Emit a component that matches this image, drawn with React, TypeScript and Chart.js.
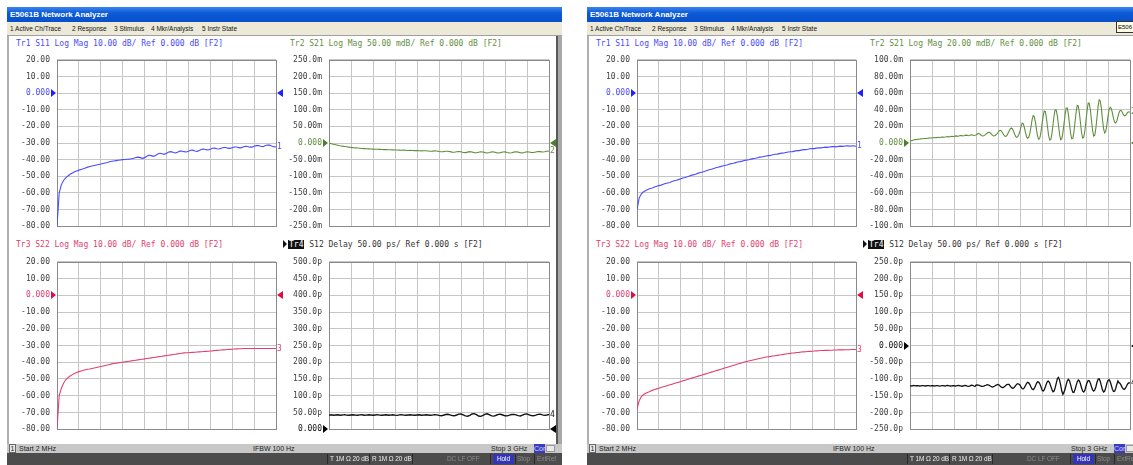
import React, { useEffect, useRef } from "react";
import { Chart, registerables } from "chart.js";
Chart.register(...registerables);

// sweep position, percent of the 2 MHz – 3 GHz span
const SWEEP = Array.from({ length: 101 }, (_, i) => i);
const SWEEP_FINE = Array.from({ length: 201 }, (_, i) => i / 2);

const LOGMAG_TICKS = ["20.00", "10.00", "0.000", "-10.00", "-20.00", "-30.00", "-40.00", "-50.00", "-60.00", "-70.00", "-80.00"];
const L_S21_TICKS = ["250.0m", "200.0m", "150.0m", "100.0m", "50.00m", "0.000", "-50.00m", "-100.0m", "-150.0m", "-200.0m", "-250.0m"];
const L_DELAY_TICKS = ["500.0p", "450.0p", "400.0p", "350.0p", "300.0p", "250.0p", "200.0p", "150.0p", "100.0p", "50.00p", "0.000"];
const R_S21_TICKS = ["100.0m", "80.00m", "60.00m", "40.00m", "20.00m", "0.000", "-20.00m", "-40.00m", "-60.00m", "-80.00m", "-100.0m"];
const R_DELAY_TICKS = ["250.0p", "200.0p", "150.0p", "100.0p", "50.00p", "0.000", "-50.00p", "-100.0p", "-150.0p", "-200.0p", "-250.0p"];

const MENU_ITEMS = ["1 Active Ch/Trace", "2 Response", "3 Stimulus", "4 Mkr/Analysis", "5 Instr State"];

// ---- left analyzer (dB, mdB, ps), 1 % steps
const L_S11 = [
  -80, -60, -55, -52.5, -51, -49.8, -48.8, -48, -47.3, -46.8,
  -46.3, -45.9, -45.5, -45.0, -44.5, -44.1, -43.8, -43.5, -43.2, -42.9,
  -42.6, -42.3, -42.0, -41.7, -41.3, -41.0, -40.8, -40.6, -40.4, -40.2,
  -40.0, -39.9, -39.8, -39.7, -39.5, -39.2, -38.7, -38.5, -38.8, -39.2,
  -38.8, -38.0, -37.4, -37.6, -38.0, -37.5, -36.6, -36.2, -36.5, -36.8,
  -36.2, -35.4, -35.2, -35.6, -36.0, -35.5, -34.9, -34.8, -35.2, -35.4,
  -35.0, -34.4, -34.3, -34.8, -35.0, -34.5, -33.8, -33.6, -34.0, -34.2,
  -33.7, -33.2, -33.1, -33.5, -33.6, -33.1, -32.7, -32.7, -33.1, -33.2,
  -32.8, -32.4, -32.4, -32.8, -32.9, -32.4, -32.0, -32.1, -32.5, -32.5,
  -32.0, -31.6, -31.5, -31.9, -32.2, -31.7, -31.2, -31.3, -31.8, -32.2,
  -32.4,
];
const L_S21 = [
  0, -2, -4, -5.5, -7, -8.5, -9.5, -10.5, -11.5, -12.5,
  -13.2, -14, -14.6, -15.2, -15.8, -16.3, -16.8, -17.2, -17.6, -18,
  -18.4, -18.7, -19, -19.3, -19.6, -19.8, -20, -20.3, -20.5, -20.7,
  -20.9, -21.2, -21.4, -21.6, -21.5, -22, -22.4, -22.2, -22.6, -23,
  -22.8, -23.2, -23.8, -23.4, -23.2, -24, -25, -24.5, -23.8, -24.2,
  -25.5, -26.5, -26, -25, -24.8, -26, -27.5, -27.8, -26.5, -25.5,
  -26.5, -28.5, -29, -27.5, -26, -26.8, -28.8, -29.5, -28, -26.5,
  -27, -29, -30, -28.5, -26.8, -27, -29, -30, -29, -27,
  -26.8, -28.5, -30, -29.5, -27.5, -26.5, -27.5, -29.5, -29.8, -28,
  -26.5, -27, -28.5, -28.5, -26.8, -25.5, -26, -27, -26.5, -25,
  -24,
];
const L_S22 = [
  -80, -60, -55.5, -52.5, -50.5, -49.2, -48.2, -47.4, -46.7, -46.1,
  -45.6, -45.2, -44.8, -44.5, -44.2, -44.0, -43.7, -43.4, -43.1, -42.8,
  -42.5, -42.2, -41.9, -41.6, -41.3, -41.0, -40.8, -40.6, -40.4, -40.2,
  -40.0, -39.8, -39.6, -39.4, -39.2, -39.0, -38.8, -38.6, -38.4, -38.2,
  -38.0, -37.8, -37.6, -37.4, -37.2, -37.0, -36.8, -36.6, -36.4, -36.2,
  -36.0, -35.8, -35.6, -35.4, -35.2, -35.0, -34.8, -34.6, -34.4, -34.3,
  -34.3, -34.2, -34.1, -34.0, -33.9, -33.8, -33.7, -33.6, -33.5, -33.4,
  -33.3, -33.2, -33.0, -32.9, -32.8, -32.7, -32.6, -32.5, -32.4, -32.3,
  -32.2, -32.1, -32.0, -31.9, -31.9, -31.8, -31.8, -31.8, -31.8, -31.8,
  -31.8, -31.8, -31.8, -31.8, -31.8, -31.8, -31.8, -31.8, -31.8, -31.8,
  -31.8,
];
const L_S12 = [
  42, 43, 41.5, 42.5, 43, 41.8, 42.2, 43.5, 42, 41.5,
  42.5, 43, 42, 41.5, 42.8, 43.2, 41.8, 42, 43, 42.5,
  41.5, 42.5, 43.5, 42, 41.8, 42.6, 43, 41.6, 42.2, 43.2,
  42, 41.4, 42.8, 43.4, 42, 41.6, 42.4, 43.2, 42.2, 41.8,
  42.6, 43, 41.8, 42.2, 43, 42.4, 41.6, 42, 43.4, 42.8,
  41.2, 40.4, 41.8, 44, 44.6, 42.6, 40.6, 40, 42.4, 45,
  45.4, 42.8, 39.8, 38.8, 41.6, 45.6, 46.4, 43.2, 39.4, 38.4,
  41.4, 45.2, 46, 43, 39.8, 39.2, 41.6, 44.2, 44.6, 42.4,
  40, 39.8, 41.8, 44, 44.4, 42.6, 40.4, 39.6, 41.8, 45,
  45.6, 43, 40.4, 40, 42, 44.4, 44.8, 42.8, 41.2, 42.4,
  44,
];

// ---- right analyzer
const R_S11 = [
  -70, -63, -60.5, -59.3, -58.6, -58.0, -57.4, -57.0, -56.5, -56.0,
  -55.6, -55.3, -54.8, -54.3, -54.0, -53.7, -53.2, -52.7, -52.4, -52.0,
  -51.5, -51.0, -50.7, -50.3, -49.8, -49.3, -49.0, -48.6, -48.1, -47.7,
  -47.4, -47.0, -46.5, -46.1, -45.8, -45.3, -44.9, -44.6, -44.2, -43.8,
  -43.5, -43.2, -42.8, -42.4, -42.2, -41.8, -41.4, -41.2, -40.9, -40.5,
  -40.3, -40.1, -39.7, -39.4, -39.2, -38.9, -38.5, -38.4, -38.1, -37.8,
  -37.6, -37.5, -37.1, -36.8, -36.7, -36.4, -36.1, -36.0, -35.7, -35.4,
  -35.3, -35.2, -34.9, -34.6, -34.6, -34.3, -34.0, -34.0, -33.8, -33.5,
  -33.4, -33.4, -33.1, -32.9, -32.9, -32.7, -32.5, -32.6, -32.4, -32.2,
  -32.2, -32.3, -32.0, -31.9, -32.0, -31.8, -31.7, -31.9, -31.8, -31.7,
  -32.0,
];
// 0.5 % steps
const R_S21 = [
  2, 2.6, 3.1, 3.5, 3.8, 4.1, 4.3, 4.5, 4.6, 4.8, 5.0, 5.1, 5.2, 5.4, 5.5, 5.6, 5.8, 5.9, 6.0, 6.0,
  6.1, 6.3, 6.4, 6.3, 6.5, 6.7, 6.8, 6.7, 6.9, 7.1, 7.2, 7.0, 7.2, 7.5, 7.6, 7.4, 7.6, 7.9, 8.0, 7.8,
  8.0, 8.3, 8.5, 8.3, 8.2, 8.6, 9.0, 8.9, 8.5, 8.7, 9.2, 9.5, 9.2, 8.8, 9.0, 9.6, 9.9, 9.6, 9.1, 9.3,
  9.6, 10.6, 11.5, 11.2, 10.2, 9.0, 8.4, 8.6, 9.4, 10.6, 11.8, 12.6, 12.8, 12.0, 10.6, 9.2, 8.4, 8.6, 9.6, 11.0,
  12.6, 14.4, 15.2, 14.6, 12.6, 10.2, 8.4, 8.0, 9.0, 11.4, 14.2, 16.8, 18.0, 17.2, 14.6, 11.0, 8.0, 6.8, 7.6, 10.2,
  14.5, 20, 24, 23, 18.5, 12.5, 7.5, 5.5, 7, 12, 19.5, 28, 33, 31.5, 25, 16, 8, 4.5, 6, 12.5,
  22, 32, 38.5, 38, 30.5, 19.5, 9, 3.5, 4, 11, 22, 33, 40, 39.5, 32, 21, 10, 4, 5, 12.5,
  23, 34, 42, 42, 34.5, 23, 11.5, 5, 5.5, 13, 25, 37, 45, 44.5, 36, 24, 12, 6, 7, 15,
  27, 39, 48, 47.5, 39.5, 27, 15, 8.5, 9.5, 18, 31, 44, 52, 50.5, 41, 28, 17, 12, 14, 22,
  32, 40, 43, 41.5, 36, 29.5, 25, 24, 26.5, 31.5, 36.5, 39, 39, 37, 34, 32.5, 33, 35, 37, 37.5,
  37,
];
const R_S22 = [
  -68, -63, -60.5, -59.3, -58.5, -58, -57.3, -56.8, -56.3, -55.9,
  -55.5, -55.1, -54.7, -54.3, -53.9, -53.5, -53.1, -52.7, -52.3, -51.9,
  -51.5, -51.1, -50.7, -50.3, -49.9, -49.5, -49.1, -48.7, -48.3, -47.9,
  -47.5, -47.1, -46.7, -46.3, -45.9, -45.5, -45.1, -44.7, -44.3, -43.9,
  -43.5, -43.1, -42.7, -42.3, -41.9, -41.5, -41.1, -40.7, -40.3, -39.9,
  -39.6, -39.3, -39.0, -38.7, -38.4, -38.1, -37.8, -37.5, -37.2, -36.9,
  -36.7, -36.5, -36.3, -36.1, -35.9, -35.7, -35.5, -35.3, -35.1, -34.9,
  -34.7, -34.5, -34.4, -34.2, -34.1, -33.9, -33.8, -33.7, -33.6, -33.5,
  -33.4, -33.3, -33.2, -33.1, -33.0, -33.0, -32.9, -32.9, -32.8, -32.8,
  -32.7, -32.7, -32.6, -32.6, -32.6, -32.5, -32.5, -32.5, -32.4, -32.4,
  -32.4,
];
// 0.5 % steps
const R_S12 = [
  -120, -121, -120.5, -119.5, -120, -120.8, -120.2, -119.6, -120.4, -121, -120.5, -119.8, -120, -120.6, -121, -120.2, -119.6, -120, -120.8, -120.4,
  -119.8, -120.2, -121, -120.6, -119.8, -119.6, -120.4, -121.2, -120.6, -119.8, -120, -120.8, -121, -120.2, -119.4, -119.8, -120.6, -121, -120.4, -119.8,
  -120.2, -121, -120.8, -120, -119.2, -119.6, -120.8, -121.6, -121, -119.6, -119, -119.8, -121, -122, -121.2, -119.6, -118.8, -119.4, -121, -122.2,
  -118.6, -118.0, -118.3, -119.3, -120.7, -121.7, -122.0, -121.4, -120.1, -118.8, -117.1, -117.3, -118.9, -121.2, -123.2, -124.0, -123.2, -121.2, -118.9, -117.3,
  -116.2, -118.1, -121.3, -124.4, -126.0, -125.3, -122.7, -119.3, -116.7, -116.0, -116.2, -120.5, -125.0, -127.7, -127.4, -124.2, -119.6, -115.6, -114, -115.6,
  -118, -124.6, -129.2, -129.6, -125.8, -119.3, -113.2, -110.1, -111.5, -116.6, -124, -130.2, -131.9, -128.2, -120.8, -113.1, -108.4, -109, -114.5, -122.4,
  -132.6, -136, -132.6, -124, -114.1, -107.2, -106.6, -112.4, -122, -131.2, -138, -136, -126, -112.3, -98.8, -95.2, -103.3, -119.2, -136, -146,
  -139.3, -130.2, -117, -105.5, -101, -105.5, -117, -130.2, -139.3, -140.3, -131.4, -119.8, -108.7, -103.2, -105.6, -115, -127, -136.4, -138.8, -133.3,
  -121.1, -110.8, -104.6, -105.3, -112.6, -123.2, -132.4, -136, -132.4, -123.2, -109.8, -100.7, -99.7, -107.5, -120.4, -132.6, -138.8, -136.1, -125.7, -112.3,
  -104.6, -102.2, -107.7, -118.8, -130.4, -137.3, -136.5, -128.3, -116.3, -106, -111, -113.2, -119, -125.6, -130.2, -130.6, -126.8, -120.3, -114.2, -111.1,
  -112.5,
];

const MONO = "'DejaVu Sans Mono', 'Liberation Mono', monospace";
const UI = "'Liberation Sans', Arial, sans-serif";
const GRID = "#c6c6c6";
const FRAME = "#8a8a8a";
const LABEL = "#404040";
const BLUE = "#4a4aff";
const GREEN = "#5f8f3e";
const PINK = "#e2406e";
const BLACK = "#111111";

type PanelCfg = {
  plot: { l: number; t: number; r: number; b: number };
  axisW: number;
  min: number;
  max: number;
  ticks: string[];
  refVal: number;
  color: string;
  markerColor: string;
  xs: number[];
  values: number[];
  num: string;
  lw: number;
};

const PAD_T = 6, PAD_B = 6, PAD_R = 12;

function Panel({ ox, cfg }: { ox: number; cfg: PanelCfg }) {
  const ref = useRef<HTMLCanvasElement>(null);
  const { l, t, r, b } = cfg.plot;
  const cw = cfg.axisW + (r - l) + PAD_R;
  const ch = PAD_T + (b - t) + PAD_B;
  useEffect(() => {
    const step = (cfg.max - cfg.min) / 10;
    const deco = {
      id: "vnaDeco",
      beforeDatasetsDraw(chart: any) {
        const { ctx, chartArea: a } = chart;
        ctx.save();
        ctx.strokeStyle = FRAME;
        ctx.lineWidth = 1;
        ctx.strokeRect(Math.round(a.left) + 0.5, Math.round(a.top) + 0.5, Math.round(a.right - a.left), Math.round(a.bottom - a.top));
        ctx.restore();
      },
      afterDatasetsDraw(chart: any) {
        const { ctx, chartArea: a } = chart;
        const ys = chart.scales.y;
        const y = Math.round(ys.getPixelForValue(cfg.refVal));
        ctx.save();
        ctx.fillStyle = cfg.markerColor;
        ctx.beginPath();
        ctx.moveTo(a.left - 6, y - 4);
        ctx.lineTo(a.left - 1, y);
        ctx.lineTo(a.left - 6, y + 4);
        ctx.closePath();
        ctx.fill();
        ctx.beginPath();
        ctx.moveTo(a.right + 7, y - 4);
        ctx.lineTo(a.right + 1, y);
        ctx.lineTo(a.right + 7, y + 4);
        ctx.closePath();
        ctx.fill();
        const last = cfg.values[cfg.values.length - 1];
        const ly = ys.getPixelForValue(last);
        ctx.fillStyle = cfg.color;
        ctx.font = `8px ${MONO}`;
        ctx.textBaseline = "middle";
        ctx.textAlign = "left";
        ctx.fillText(cfg.num, a.right + 1, ly);
        ctx.restore();
      },
    };
    const chart = new Chart(ref.current as HTMLCanvasElement, {
      type: "line",
      data: {
        datasets: [
          {
            data: cfg.values.map((v, i) => ({ x: cfg.xs[i], y: v })),
            borderColor: cfg.color,
            borderWidth: cfg.lw,
            pointRadius: 0,
            tension: 0,
            fill: false,
          },
        ],
      },
      options: {
        animation: false,
        responsive: false,
        maintainAspectRatio: false,
        devicePixelRatio: 1,
        layout: { padding: { left: 0, right: PAD_R, top: PAD_T, bottom: PAD_B } },
        plugins: { legend: { display: false }, tooltip: { enabled: false }, title: { display: false } },
        scales: {
          x: {
            type: "linear",
            min: 0,
            max: 100,
            ticks: { display: false, stepSize: 10 },
            grid: { color: GRID, drawTicks: false },
            border: { display: false },
            afterFit: (s: any) => {
              s.height = 0;
            },
          },
          y: {
            type: "linear",
            min: cfg.min,
            max: cfg.max,
            ticks: {
              stepSize: step,
              padding: 7,
              font: { family: MONO, size: 8 },
              color: (c: any) => (Math.abs(c.tick.value - cfg.refVal) < 1e-9 ? cfg.color : LABEL),
              callback: (v: any) => cfg.ticks[Math.round((cfg.max - Number(v)) / step)],
            },
            grid: { color: GRID, drawTicks: false },
            border: { display: false },
            afterFit: (s: any) => {
              s.width = cfg.axisW;
            },
          },
        },
      } as any,
      plugins: [deco],
    });
    return () => chart.destroy();
  }, []);
  return (
    <canvas
      ref={ref}
      width={cw}
      height={ch}
      style={{ position: "absolute", left: ox + l - cfg.axisW, top: t - PAD_T, width: cw, height: ch }}
    />
  );
}

const abs = (o: any) => ({ position: "absolute" as const, whiteSpace: "pre" as const, ...o });

function TraceTitle({ x, y, color, text }: { x: number; y: number; color: string; text: string }) {
  return <div style={abs({ left: x, top: y, font: `8px ${MONO}`, lineHeight: "9px", color })}>{text}</div>;
}

function Tr4Title({ x, y, text }: { x: number; y: number; text: string }) {
  return (
    <div style={abs({ left: x, top: y, font: `8px ${MONO}`, lineHeight: "9px", color: "#333" })}>
      <span style={{ display: "inline-block", width: 0, height: 0, borderTop: "4px solid transparent", borderBottom: "4px solid transparent", borderLeft: "4px solid #111", verticalAlign: "-1px", marginRight: 1 }} />
      <span style={{ background: "#111", color: "#fff", padding: "0 1px" }}>Tr4</span>
      {" " + text}
    </div>
  );
}

type WinCfg = {
  ox: number;
  panels: PanelCfg[];
  tr2Title: string;
  tr4Title: string;
  tooltip?: boolean;
};

const MENU_X = [3, 65, 107, 144, 195];

function AnalyzerWindow({ w }: { w: WinCfg }) {
  const ox = w.ox;
  const sep = (x: number) => <span style={abs({ left: x, top: 1, width: 1, height: 10, background: "#2a2a2a" })} />;
  const bar = { font: `6.5px ${UI}`, letterSpacing: "-0.1px" };
  return (
    <>
      <div
        style={abs({
          left: ox + 7,
          top: 7,
          width: 555,
          height: 15,
          background: "linear-gradient(#3d85ee, #0b5ad9 40%, #0850c8)",
          color: "#fff",
          font: `bold 8px ${UI}`,
          lineHeight: "15px",
          paddingLeft: 3,
          boxSizing: "border-box",
        })}
      >
        E5061B Network Analyzer
      </div>
      <div style={abs({ left: ox + 7, top: 22, width: 555, height: 13, background: "#ece9d8", color: "#111", font: `6.5px ${UI}`, lineHeight: "13px" })}>
        {MENU_ITEMS.map((m, i) => (
          <span key={i} style={abs({ left: MENU_X[i], top: 0 })}>
            {m}
          </span>
        ))}
      </div>
      <div style={abs({ left: ox + 7, top: 35, width: 555, height: 1, background: "#a0a0a0" })} />
      <div style={abs({ left: ox + 7, top: 36, width: 2, height: 408, background: "#b0b0b0" })} />
      <div style={abs({ left: ox + 556, top: 36, width: 2, height: 408, background: "#5a5a5a" })} />
      <div style={abs({ left: ox + 558, top: 36, width: 4, height: 408, background: "#a8a8a8" })} />
      {w.tooltip && (
        <div style={abs({ left: 1116, top: 21, width: 30, height: 10, background: "#ffffe8", border: "1px solid #333", font: `6px ${UI}`, lineHeight: "10px", paddingLeft: 1 })}>
          E506
        </div>
      )}
      <TraceTitle x={ox + 16} y={39} color={BLUE} text="Tr1 S11 Log Mag 10.00 dB/ Ref 0.000 dB [F2]" />
      <TraceTitle x={ox + 290} y={39} color={GREEN} text={w.tr2Title} />
      <TraceTitle x={ox + 16} y={240} color={PINK} text="Tr3 S22 Log Mag 10.00 dB/ Ref 0.000 dB [F2]" />
      <Tr4Title x={ox + 283} y={240} text={w.tr4Title} />
      {w.panels.map((p, i) => (
        <Panel key={i} ox={ox} cfg={p} />
      ))}
      <div style={abs({ left: ox + 7, top: 444, width: 555, height: 9, background: "#c8c8c8", font: `7px ${UI}`, lineHeight: "9px", color: "#222" })}>
        <span style={abs({ left: 2, top: 0, height: 9, width: 7, border: "1px solid #666", background: "#e8e8e8", textAlign: "center", lineHeight: "7px", boxSizing: "border-box" })}>1</span>
        <span style={abs({ left: 12, top: 0 })}>Start 2 MHz</span>
        <span style={abs({ left: 246, top: 0 })}>IFBW 100 Hz</span>
        <span style={abs({ left: 484, top: 0 })}>Stop 3 GHz</span>
        <span style={abs({ left: 527, top: 0, height: 9, width: 11, background: "#3a3ac4", color: "#dde", textAlign: "center" })}>Cor</span>
        <span style={abs({ left: 539, top: 1, height: 7, width: 9, background: "#e8e8e8", border: "1px solid #999", boxSizing: "border-box" })} />
      </div>
      <div style={abs({ left: ox + 7, top: 453, width: 555, height: 12, background: "#4c4c4c", ...bar, lineHeight: "12px", color: "#eee" })}>
        {sep(320)}
        <span style={abs({ left: 323, top: 0 })}>T 1M Ω 20 dB</span>
        {sep(362)}
        <span style={abs({ left: 365, top: 0 })}>R 1M Ω 20 dB</span>
        {sep(405)}
        <span style={abs({ left: 440, top: 0, color: "#8a8a8a" })}>DC LF OFF</span>
        {sep(483)}
        <span style={abs({ left: 486, top: 1, height: 10, background: "#3434b4", color: "#fff", lineHeight: "10px", padding: "0 4px" })}>Hold</span>
        {sep(508)}
        <span style={abs({ left: 510, top: 0, color: "#8a8a8a" })}>Stop</span>
        {sep(527)}
        <span style={abs({ left: 530, top: 0, color: "#8a8a8a" })}>ExtRef</span>
      </div>
    </>
  );
}

const PLOT_TL = { l: 57, t: 54, r: 276, b: 232 };
const PLOT_TR = { l: 329, t: 54, r: 549, b: 232 };
const PLOT_BL = { l: 57, t: 256, r: 276, b: 435 };
const PLOT_BR = { l: 329, t: 256, r: 549, b: 435 };

const LEFT_WIN: WinCfg = {
  ox: 0,
  tr2Title: "Tr2 S21 Log Mag 50.00 mdB/ Ref 0.000 dB [F2]",
  tr4Title: "S12 Delay 50.00 ps/ Ref 0.000 s [F2]",
  panels: [
    { plot: PLOT_TL, axisW: 50, min: -80, max: 20, ticks: LOGMAG_TICKS, refVal: 0, color: BLUE, markerColor: "#2020ff", xs: SWEEP, values: L_S11, num: "1", lw: 1.1 },
    { plot: PLOT_TR, axisW: 44, min: -250, max: 250, ticks: L_S21_TICKS, refVal: 0, color: GREEN, markerColor: "#4c7f2c", xs: SWEEP, values: L_S21, num: "2", lw: 1.1 },
    { plot: PLOT_BL, axisW: 50, min: -80, max: 20, ticks: LOGMAG_TICKS, refVal: 0, color: PINK, markerColor: "#d8104a", xs: SWEEP, values: L_S22, num: "3", lw: 1.1 },
    { plot: PLOT_BR, axisW: 44, min: 0, max: 500, ticks: L_DELAY_TICKS, refVal: 0, color: BLACK, markerColor: "#000", xs: SWEEP, values: L_S12, num: "4", lw: 1.4 },
  ],
};

const RIGHT_WIN: WinCfg = {
  ox: 580,
  tooltip: true,
  tr2Title: "Tr2 S21 Log Mag 20.00 mdB/ Ref 0.000 dB [F2]",
  tr4Title: "S12 Delay 50.00 ps/ Ref 0.000 s [F2]",
  panels: [
    { plot: PLOT_TL, axisW: 50, min: -80, max: 20, ticks: LOGMAG_TICKS, refVal: 0, color: BLUE, markerColor: "#2020ff", xs: SWEEP, values: R_S11, num: "1", lw: 1.1 },
    { plot: { l: 330, t: 54, r: 550, b: 232 }, axisW: 44, min: -100, max: 100, ticks: R_S21_TICKS, refVal: 0, color: GREEN, markerColor: "#4c7f2c", xs: SWEEP_FINE, values: R_S21, num: "2", lw: 1.1 },
    { plot: PLOT_BL, axisW: 50, min: -80, max: 20, ticks: LOGMAG_TICKS, refVal: 0, color: PINK, markerColor: "#d8104a", xs: SWEEP, values: R_S22, num: "3", lw: 1.1 },
    { plot: { l: 330, t: 256, r: 550, b: 435 }, axisW: 44, min: -250, max: 250, ticks: R_DELAY_TICKS, refVal: 0, color: BLACK, markerColor: "#000", xs: SWEEP_FINE, values: R_S12, num: "4", lw: 1.3 },
  ],
};

export default function App() {
  return (
    <div style={{ position: "fixed", left: 0, top: 0, width: 1133, height: 465, overflow: "hidden", background: "#fff" }}>
      <AnalyzerWindow w={LEFT_WIN} />
      <AnalyzerWindow w={RIGHT_WIN} />
    </div>
  );
}
